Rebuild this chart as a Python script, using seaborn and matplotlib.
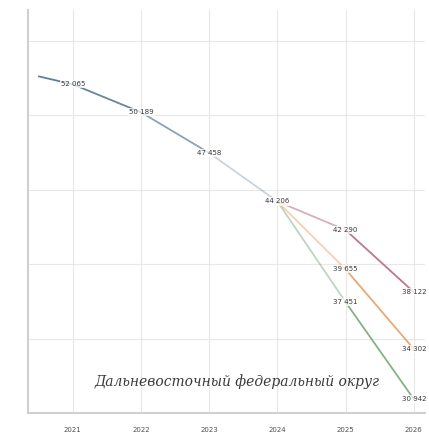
import numpy as np
import pandas as pd
import seaborn as sns
import matplotlib.pyplot as plt

# данные (оценка по картинке)
hist_years = [2020.5, 2021, 2022, 2023, 2024]
hist_values = [52600, 52065, 50189, 47458, 44206]

scen_years = [2024, 2025, 2026]
scen_high = [44206, 42290, 38122]
scen_mid = [44206, 39655, 34302]
scen_low = [44206, 37451, 30942]

year_ticks = [2021, 2022, 2023, 2024, 2025, 2026]
title = "Дальневосточный федеральный округ"

sns.set_style("whitegrid", {"grid.color": "#e8e8e8", "axes.edgecolor": "#d0d0d0"})

fig = plt.figure(figsize=(4.29, 4.40), dpi=100)
ax = fig.add_axes([0.065, 0.061, 0.925, 0.916])


def draw_fading(xs, ys, color, alphas):
    # линия по сегментам, чтобы сделать плавное затухание
    for i in range(len(xs) - 1):
        seg = pd.DataFrame({"x": xs[i:i + 2], "y": ys[i:i + 2]})
        sns.lineplot(data=seg, x="x", y="y", color=color, alpha=alphas[i],
                     linewidth=1.3, ax=ax)


draw_fading(hist_years, hist_values, "#50708f", [0.9, 0.85, 0.65, 0.3])
draw_fading(scen_years, scen_high, "#b35f7c", [0.5, 0.85])
draw_fading(scen_years, scen_mid, "#e8995a", [0.45, 0.85])
draw_fading(scen_years, scen_low, "#6fa56f", [0.45, 0.85])

box = dict(boxstyle="square,pad=0.15", fc="white", ec="none", alpha=0.75)


def lbl(x, v):
    ax.text(x, v, f"{v:,}".replace(",", " "), fontsize=5, color="#383838",
            ha="center", va="center", bbox=box, zorder=6)


for x, v in zip(hist_years[1:], hist_values[1:]):
    lbl(x, v)
for series in (scen_high, scen_mid, scen_low):
    for x, v in zip(scen_years[1:], series[1:]):
        lbl(x, v)

ax.text(2023.4, 32100, title, fontsize=10, style="italic", family="DejaVu Serif",
        color="#3a3a3a", ha="center", va="center", zorder=6)

ax.set_xlim(2020.34, 2026.16)
ax.set_ylim(30000, 57047)
ax.set_xticks(year_ticks)
ax.set_xticklabels([str(y) for y in year_ticks], fontsize=5, color="#505050")
ax.set_yticks([35000, 40000, 45000, 50000, 55000])
ax.set_yticklabels([])
ax.tick_params(axis="x", pad=10, length=0)
ax.tick_params(axis="y", length=0)
ax.set_xlabel("")
ax.set_ylabel("")
ax.spines["top"].set_visible(False)
ax.spines["right"].set_visible(False)
ax.spines["left"].set_linewidth(1.5)
ax.spines["bottom"].set_linewidth(1.5)

fig.savefig("out.png", dpi=100)
